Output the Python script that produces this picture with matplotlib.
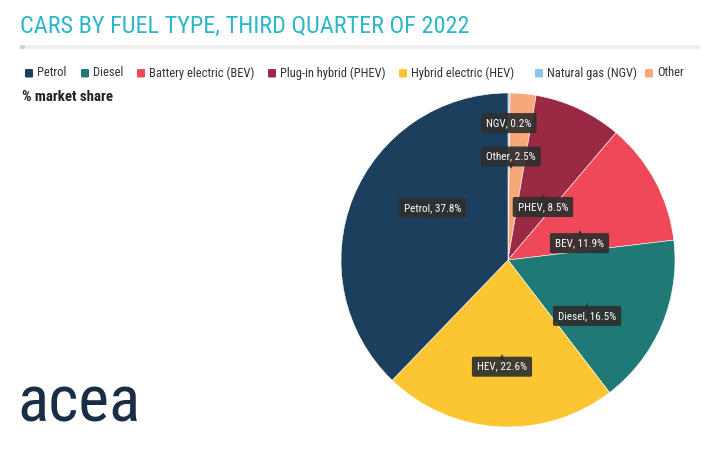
import matplotlib
matplotlib.use('Agg')
import matplotlib.pyplot as plt
import matplotlib.transforms as mtransforms
from matplotlib.patches import FancyBboxPatch
import numpy as np
import logging
logging.getLogger('matplotlib.font_manager').setLevel(logging.ERROR)

# ---- data ----
categories = ['NGV', 'Other', 'PHEV', 'BEV', 'Diesel', 'HEV', 'Petrol']
shares = [0.2, 2.5, 8.5, 11.9, 16.5, 22.6, 37.8]
legend_keys = ['Petrol', 'Diesel', 'BEV', 'PHEV', 'HEV', 'NGV', 'Other']
legend_names = ['Petrol', 'Diesel', 'Battery electric (BEV)', 'Plug-in hybrid (PHEV)',
                'Hybrid electric (HEV)', 'Natural gas (NGV)', 'Other']
title = 'CARS BY FUEL TYPE, THIRD QUARTER OF 2022'
subtitle = '% market share'

# ---- style ----
palette = {'Petrol': '#1c3f5e', 'Diesel': '#1f7a76', 'BEV': '#ef4858', 'PHEV': '#9a2943',
           'HEV': '#fbc632', 'NGV': '#8ec4e8', 'Other': '#f7a878'}
label_r = [0.82, 0.62, 0.38, 0.44, 0.58, 0.64, 0.55]
label_shift = [0, -3.6, 8.4, 15, 12.4, 0, 12.7]   # degrees clockwise
pointer = [None, 'bottom', 'top', 'top', 'top', 'top', 'bottom']
legend_x = [25, 81, 137, 268, 399, 535, 645]

narrow = ['Roboto Condensed', 'PT Sans Narrow', 'IBM Plex Sans Condensed', 'DejaVu Sans']
W, H = 702, 450
fig = plt.figure(figsize=(W / 100, H / 100), dpi=100)
fig.patch.set_facecolor('white')

# title
fig.text(20 / W, 1 - 26 / H, title, family=narrow, fontsize=17.5, color='#2cb6c9',
         ha='left', va='center')
# grey bar under title
fig.patches.append(FancyBboxPatch((20 / W, 1 - 49 / H), 680 / W, 4 / H,
                                  boxstyle='round,pad=0,rounding_size=0.003',
                                  transform=fig.transFigure, facecolor='#efefef',
                                  edgecolor='none'))
fig.patches.append(FancyBboxPatch((20 / W, 1 - 49 / H), 5 / W, 4 / H,
                                  boxstyle='round,pad=0,rounding_size=0.003',
                                  transform=fig.transFigure, facecolor='#cfcfcf',
                                  edgecolor='none'))

# legend
for x, key, name in zip(legend_x, legend_keys, legend_names):
    fig.patches.append(FancyBboxPatch((x / W, 1 - 77.5 / H), 8 / W, 8.5 / H,
                                      boxstyle='round,pad=0,rounding_size=0.002',
                                      transform=fig.transFigure, facecolor=palette[key],
                                      edgecolor='none'))
    fig.text((x + 12) / W, 1 - 73 / H, name, family=narrow, fontsize=9,
             color='#333333', ha='left', va='center')

fig.text(22 / W, 1 - 97 / H, subtitle, family=narrow, fontsize=10.7, fontweight='bold',
         color='#222222', ha='left', va='center')

# logo
fig.text(17 / W, 1 - 404 / H, 'acea', family=narrow, fontsize=47, fontweight='normal',
         color='#1b2d44', ha='left', va='center')

# pie
cx, cy, R = 508, 260, 167
ax = fig.add_axes([(cx - R) / W, (H - cy - R) / H, 2 * R / W, 2 * R / H])
wedges, _ = ax.pie(shares, colors=[palette[c] for c in categories], startangle=90,
                   counterclock=False, radius=1,
                   wedgeprops=dict(linewidth=0.4, edgecolor='white'))
ax.set_xlim(-1, 1)
ax.set_ylim(-1, 1)
ax.set_aspect('equal')
ax.axis('off')

for w, cat, val, r, sh, p in zip(wedges, categories, shares, label_r, label_shift, pointer):
    th = np.deg2rad((w.theta1 + w.theta2) / 2 - sh)
    x, y = r * np.cos(th), r * np.sin(th)
    ax.text(x, y, f'{cat}, {val}%', family=narrow, fontsize=8, color='white',
            ha='center', va='center', zorder=5,
            bbox=dict(boxstyle='round,pad=0.45,rounding_size=0.15', facecolor='#2f2f2f',
                      edgecolor='none', alpha=0.92))
    if p is not None:
        dy = 7.0 if p == 'top' else -7.0
        tr = mtransforms.offset_copy(ax.transData, fig=fig, x=0, y=dy, units='points')
        ax.plot([x], [y], marker='^' if p == 'top' else 'v', markersize=4,
                color='#2f2f2f', transform=tr, zorder=5, alpha=0.92,
                markeredgewidth=0)

fig.savefig('out.png', dpi=100, facecolor='white')
